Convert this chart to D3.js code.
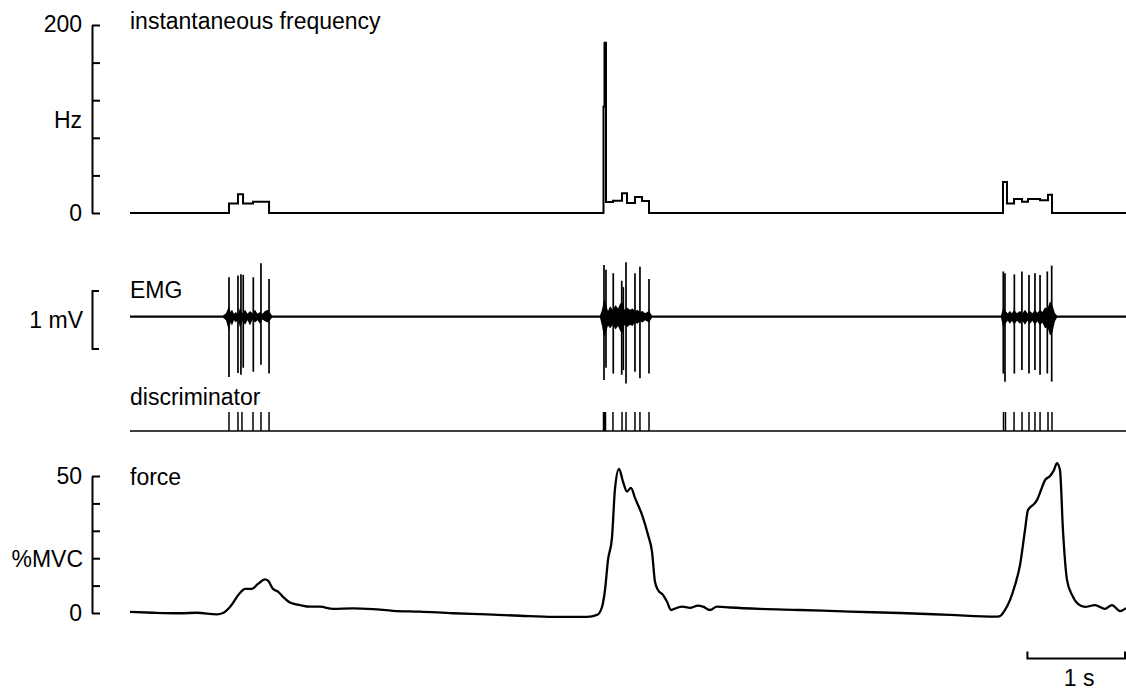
<!DOCTYPE html>
<html><head><meta charset="utf-8">
<script src="https://cdn.jsdelivr.net/npm/d3@7"></script>
<style>
html,body{margin:0;padding:0;background:#fff;}
svg text{font-family:"Liberation Sans",Arial,sans-serif;font-size:23px;fill:#000;}
</style></head>
<body>
<svg id="chart" width="1126" height="691"></svg>
<script>
// ---------- DATA (time in seconds, 0..10 s) ----------
// instantaneous frequency (Hz), step-after
const freqTime = [0, 0.994, 1.084, 1.135, 1.235, 1.396,
  4.754, 4.764, 4.779, 4.849, 4.940, 4.990, 5.070, 5.141, 5.211,
  8.765, 8.805, 8.876, 8.956, 9.016, 9.137, 9.217, 9.257, 10];
const freqHz = [0, 10, 20, 10, 12, 0,
  113, 181, 11.7, 13, 21, 10.6, 17, 12.8, 0,
  33, 10, 15, 12, 15, 13.5, 19.5, 0, 0];
const freqTicks = [0, 40, 80, 120, 160, 200];

// EMG spikes: time, positive peak (mV), negative peak (mV)
const emgSpikeTime = [0.994, 1.084, 1.114, 1.137, 1.238, 1.315, 1.396,
  4.759, 4.779, 4.852, 4.937, 4.953, 4.980, 5.070, 5.120, 5.211,
  8.768, 8.785, 8.879, 8.955, 9.026, 9.086, 9.137, 9.210, 9.254];
const emgSpikeUp = [0.68, 0.71, 0.73, 0.72, 0.68, 0.92, 0.65,
  0.89, 0.81, 0.75, 0.62, 0.51, 0.94, 0.75, 0.86, 0.65,
  0.78, 0.75, 0.73, 0.78, 0.72, 0.75, 0.72, 0.78, 0.88];
const emgSpikeDown = [-1.04, -0.97, -1.00, -0.88, -0.95, -0.83, -0.98,
  -1.09, -0.88, -0.98, -1.00, -0.92, -1.15, -0.95, -1.06, -0.98,
  -0.98, -1.12, -0.98, -0.92, -0.98, -0.92, -1.00, -0.98, -1.12];
// EMG background activity envelope: time, upper (mV), lower (mV)
const emgNoiseTime = [0.934, 0.964, 0.994, 1.010, 1.024, 1.044, 1.064, 1.084, 1.104, 1.130, 1.155, 1.180, 1.205, 1.230, 1.255, 1.280, 1.305, 1.330, 1.355, 1.386, 1.426,
  null,
  4.719, 4.739, 4.759, 4.779, 4.799, 4.820, 4.849, 4.875, 4.900, 4.920, 4.940, 4.965, 4.990, 5.020, 5.045, 5.070, 5.095, 5.120, 5.145, 5.171, 5.211, 5.241,
  null,
  8.745, 8.768, 8.790, 8.812, 8.835, 8.855, 8.876, 8.905, 8.936, 8.960, 8.986, 9.010, 9.036, 9.060, 9.086, 9.110, 9.137, 9.160, 9.187, 9.212, 9.237, 9.257, 9.287, 9.307];
const emgNoiseUp = [0.02, 0.06, 0.18, 0.08, 0.12, 0.05, 0.08, 0.04, 0.15, 0.06, 0.12, 0.05, 0.10, 0.06, 0.12, 0.05, 0.08, 0.05, 0.10, 0.12, 0.02,
  null,
  0.02, 0.12, 0.30, 0.22, 0.10, 0.18, 0.12, 0.20, 0.14, 0.22, 0.26, 0.12, 0.16, 0.12, 0.14, 0.10, 0.12, 0.08, 0.10, 0.06, 0.10, 0.02,
  null,
  0.02, 0.16, 0.10, 0.06, 0.10, 0.06, 0.12, 0.06, 0.10, 0.06, 0.12, 0.06, 0.10, 0.06, 0.12, 0.07, 0.12, 0.08, 0.16, 0.14, 0.26, 0.22, 0.06, 0.02];
const emgNoiseDown = [-0.02, -0.06, -0.25, -0.10, -0.15, -0.06, -0.10, -0.05, -0.18, -0.07, -0.14, -0.06, -0.15, -0.05, -0.10, -0.06, -0.12, -0.05, -0.08, -0.10, -0.02,
  null,
  -0.02, -0.16, -0.35, -0.28, -0.15, -0.20, -0.14, -0.22, -0.16, -0.24, -0.30, -0.14, -0.18, -0.14, -0.16, -0.10, -0.12, -0.08, -0.10, -0.06, -0.10, -0.02,
  null,
  -0.02, -0.20, -0.12, -0.07, -0.12, -0.07, -0.14, -0.07, -0.12, -0.07, -0.14, -0.07, -0.12, -0.07, -0.14, -0.08, -0.15, -0.10, -0.20, -0.18, -0.32, -0.30, -0.08, -0.02];
const emgScaleBar = [-0.55, 0.45]; // 1 mV

// discriminator pulses (s)
const discTime = [0.994, 1.084, 1.124, 1.235, 1.315, 1.396,
  4.754, 4.764, 4.774, 4.849, 4.940, 4.980, 5.070, 5.120, 5.211,
  8.770, 8.790, 8.876, 8.956, 9.026, 9.086, 9.137, 9.217, 9.257];

// force (%MVC)
const forceTime = [0.000, 0.231, 0.502, 0.673, 0.873, 0.934, 1.004, 1.104, 1.155, 1.225, 1.285, 1.355, 1.386, 1.436, 1.486, 1.536, 1.606, 1.707, 1.807, 1.908, 2.038, 2.239, 2.440, 2.641, 2.912, 3.243, 3.584, 3.916, 4.247, 4.588, 4.689, 4.739, 4.769, 4.799, 4.839, 4.870, 4.910, 4.950, 4.990, 5.030, 5.070, 5.141, 5.201, 5.241, 5.271, 5.301, 5.351, 5.392, 5.432, 5.492, 5.542, 5.622, 5.703, 5.753, 5.823, 5.893, 6.024, 6.325, 6.727, 7.229, 7.731, 8.233, 8.685, 8.735, 8.785, 8.835, 8.886, 8.936, 8.986, 9.016, 9.066, 9.106, 9.147, 9.187, 9.237, 9.277, 9.307, 9.337, 9.367, 9.408, 9.458, 9.518, 9.588, 9.689, 9.789, 9.859, 9.940, 10.0];
const forceMVC = [0.4, 0.1, -0.1, 0.1, -0.5, 0.0, 2.2, 7.3, 8.8, 8.8, 10.6, 12.3, 11.8, 8.8, 7.8, 5.9, 3.8, 2.9, 2.3, 2.3, 1.5, 1.7, 1.4, 0.8, 0.5, -0.1, -0.5, -1.0, -1.4, -1.4, -0.7, 2.2, 8.4, 19.3, 27.4, 45.6, 52.6, 47.9, 44.3, 45.7, 42.0, 35.8, 28.5, 22.4, 11.4, 8.4, 6.6, 4.1, 1.1, 1.9, 2.3, 1.9, 2.7, 2.3, 1.1, 2.3, 2.0, 1.5, 1.1, 0.5, 0.0, -0.7, -1.3, -1.1, 1.1, 4.7, 10.2, 17.5, 30.3, 37.6, 39.4, 41.2, 44.9, 48.5, 50.0, 52.2, 54.7, 52.2, 30.3, 12.0, 6.6, 3.3, 2.2, 2.9, 1.5, 2.9, 0.7, 1.8];
const forceTicks = [0, 10, 20, 30, 40, 50];
const timeBar = [9, 10]; // 1 s

// ---------- DRAW ----------
const svg = d3.select("#chart");
const x = d3.scaleLinear().domain([0, 10]).range([130, 1126]);
const yF = d3.scaleLinear().domain([0, 200]).range([213, 25]);
const yE = d3.scaleLinear().domain([-1, 1]).range([374.7, 258.7]);
const yD = d3.scaleLinear().domain([0, 1]).range([431, 412]);
const yM = d3.scaleLinear().domain([0, 50]).range([613, 476]);

function styleAxis(g){
  g.selectAll("path,line").attr("stroke","#000").attr("stroke-width",2);
  g.selectAll("text").remove();
}

// frequency panel
svg.append("g").attr("transform","translate(92,0)")
  .call(d3.axisRight(yF).tickValues(freqTicks).tickSize(8).tickSizeOuter(0).tickFormat(""))
  .call(styleAxis);
svg.append("text").attr("x",82).attr("y",yF(200)+7).attr("text-anchor","end").text("200");
svg.append("text").attr("x",82).attr("y",yF(0)+8).attr("text-anchor","end").text("0");
svg.append("text").attr("x",82).attr("y",128).attr("text-anchor","end").text("Hz");
svg.append("text").attr("x",130).attr("y",29).text("instantaneous frequency");

const freqData = freqTime.map((t,i)=>[t,freqHz[i]]);
svg.append("path").datum(freqData)
  .attr("d", d3.line().x(d=>x(d[0])).y(d=>yF(d[1])).curve(d3.curveStepAfter))
  .attr("fill","none").attr("stroke","#000").attr("stroke-width",2);

// EMG panel
const barScale = d3.scaleLinear().domain(emgScaleBar).range([yE(emgScaleBar[0]), yE(emgScaleBar[1])]);
svg.append("g").attr("transform","translate(92,0)")
  .call(d3.axisRight(barScale).tickValues([]).tickSizeOuter(7))
  .call(styleAxis);
svg.append("text").attr("x",83).attr("y",328).attr("text-anchor","end").text("1 mV");
svg.append("text").attr("x",130).attr("y",298).text("EMG");

svg.append("line").attr("x1",x(0)).attr("x2",x(10)).attr("y1",yE(0)).attr("y2",yE(0))
  .attr("stroke","#000").attr("stroke-width",2.2);

const noiseData = emgNoiseTime.map((t,i)=>({t, up:emgNoiseUp[i], dn:emgNoiseDown[i]}));
svg.append("path").datum(noiseData)
  .attr("d", d3.area().defined(d=>d.t!==null).x(d=>x(d.t)).y0(d=>yE(d.dn)).y1(d=>yE(d.up)))
  .attr("fill","#000").attr("stroke","none");

svg.append("g").selectAll("line").data(emgSpikeTime).join("line")
  .attr("x1",d=>x(d)).attr("x2",d=>x(d))
  .attr("y1",(d,i)=>yE(emgSpikeUp[i])).attr("y2",(d,i)=>yE(emgSpikeDown[i]))
  .attr("stroke","#000").attr("stroke-width",1.7);

// discriminator
svg.append("text").attr("x",130).attr("y",405).text("discriminator");
svg.append("line").attr("x1",x(0)).attr("x2",x(10)).attr("y1",yD(0)).attr("y2",yD(0))
  .attr("stroke","#000").attr("stroke-width",1.6);
svg.append("g").selectAll("line").data(discTime).join("line")
  .attr("x1",d=>x(d)).attr("x2",d=>x(d)).attr("y1",yD(0)).attr("y2",yD(1))
  .attr("stroke","#000").attr("stroke-width",1.5);

// force panel
svg.append("g").attr("transform","translate(92,0)")
  .call(d3.axisRight(yM).tickValues(forceTicks).tickSize(8).tickSizeOuter(0).tickFormat(""))
  .call(styleAxis);
svg.append("text").attr("x",82).attr("y",yM(50)+8).attr("text-anchor","end").text("50");
svg.append("text").attr("x",82).attr("y",yM(0)+8).attr("text-anchor","end").text("0");
svg.append("text").attr("x",83).attr("y",567).attr("text-anchor","end").text("%MVC");
svg.append("text").attr("x",130).attr("y",485).text("force");

const forceData = forceTime.map((t,i)=>[t,forceMVC[i]]);
svg.append("path").datum(forceData)
  .attr("d", d3.line().x(d=>x(d[0])).y(d=>yM(d[1])).curve(d3.curveMonotoneX))
  .attr("fill","none").attr("stroke","#000").attr("stroke-width",2.3);

// time scale bar
const barY = 658.5;
svg.append("path")
  .attr("d", `M${x(timeBar[0])+1},${barY-7}V${barY}H${x(timeBar[1])-1}V${barY-7}`)
  .attr("fill","none").attr("stroke","#000").attr("stroke-width",2);
svg.append("text").attr("x",(x(timeBar[0])+x(timeBar[1]))/2+3).attr("y",686)
  .attr("text-anchor","middle").text("1 s");
</script>
</body></html>
